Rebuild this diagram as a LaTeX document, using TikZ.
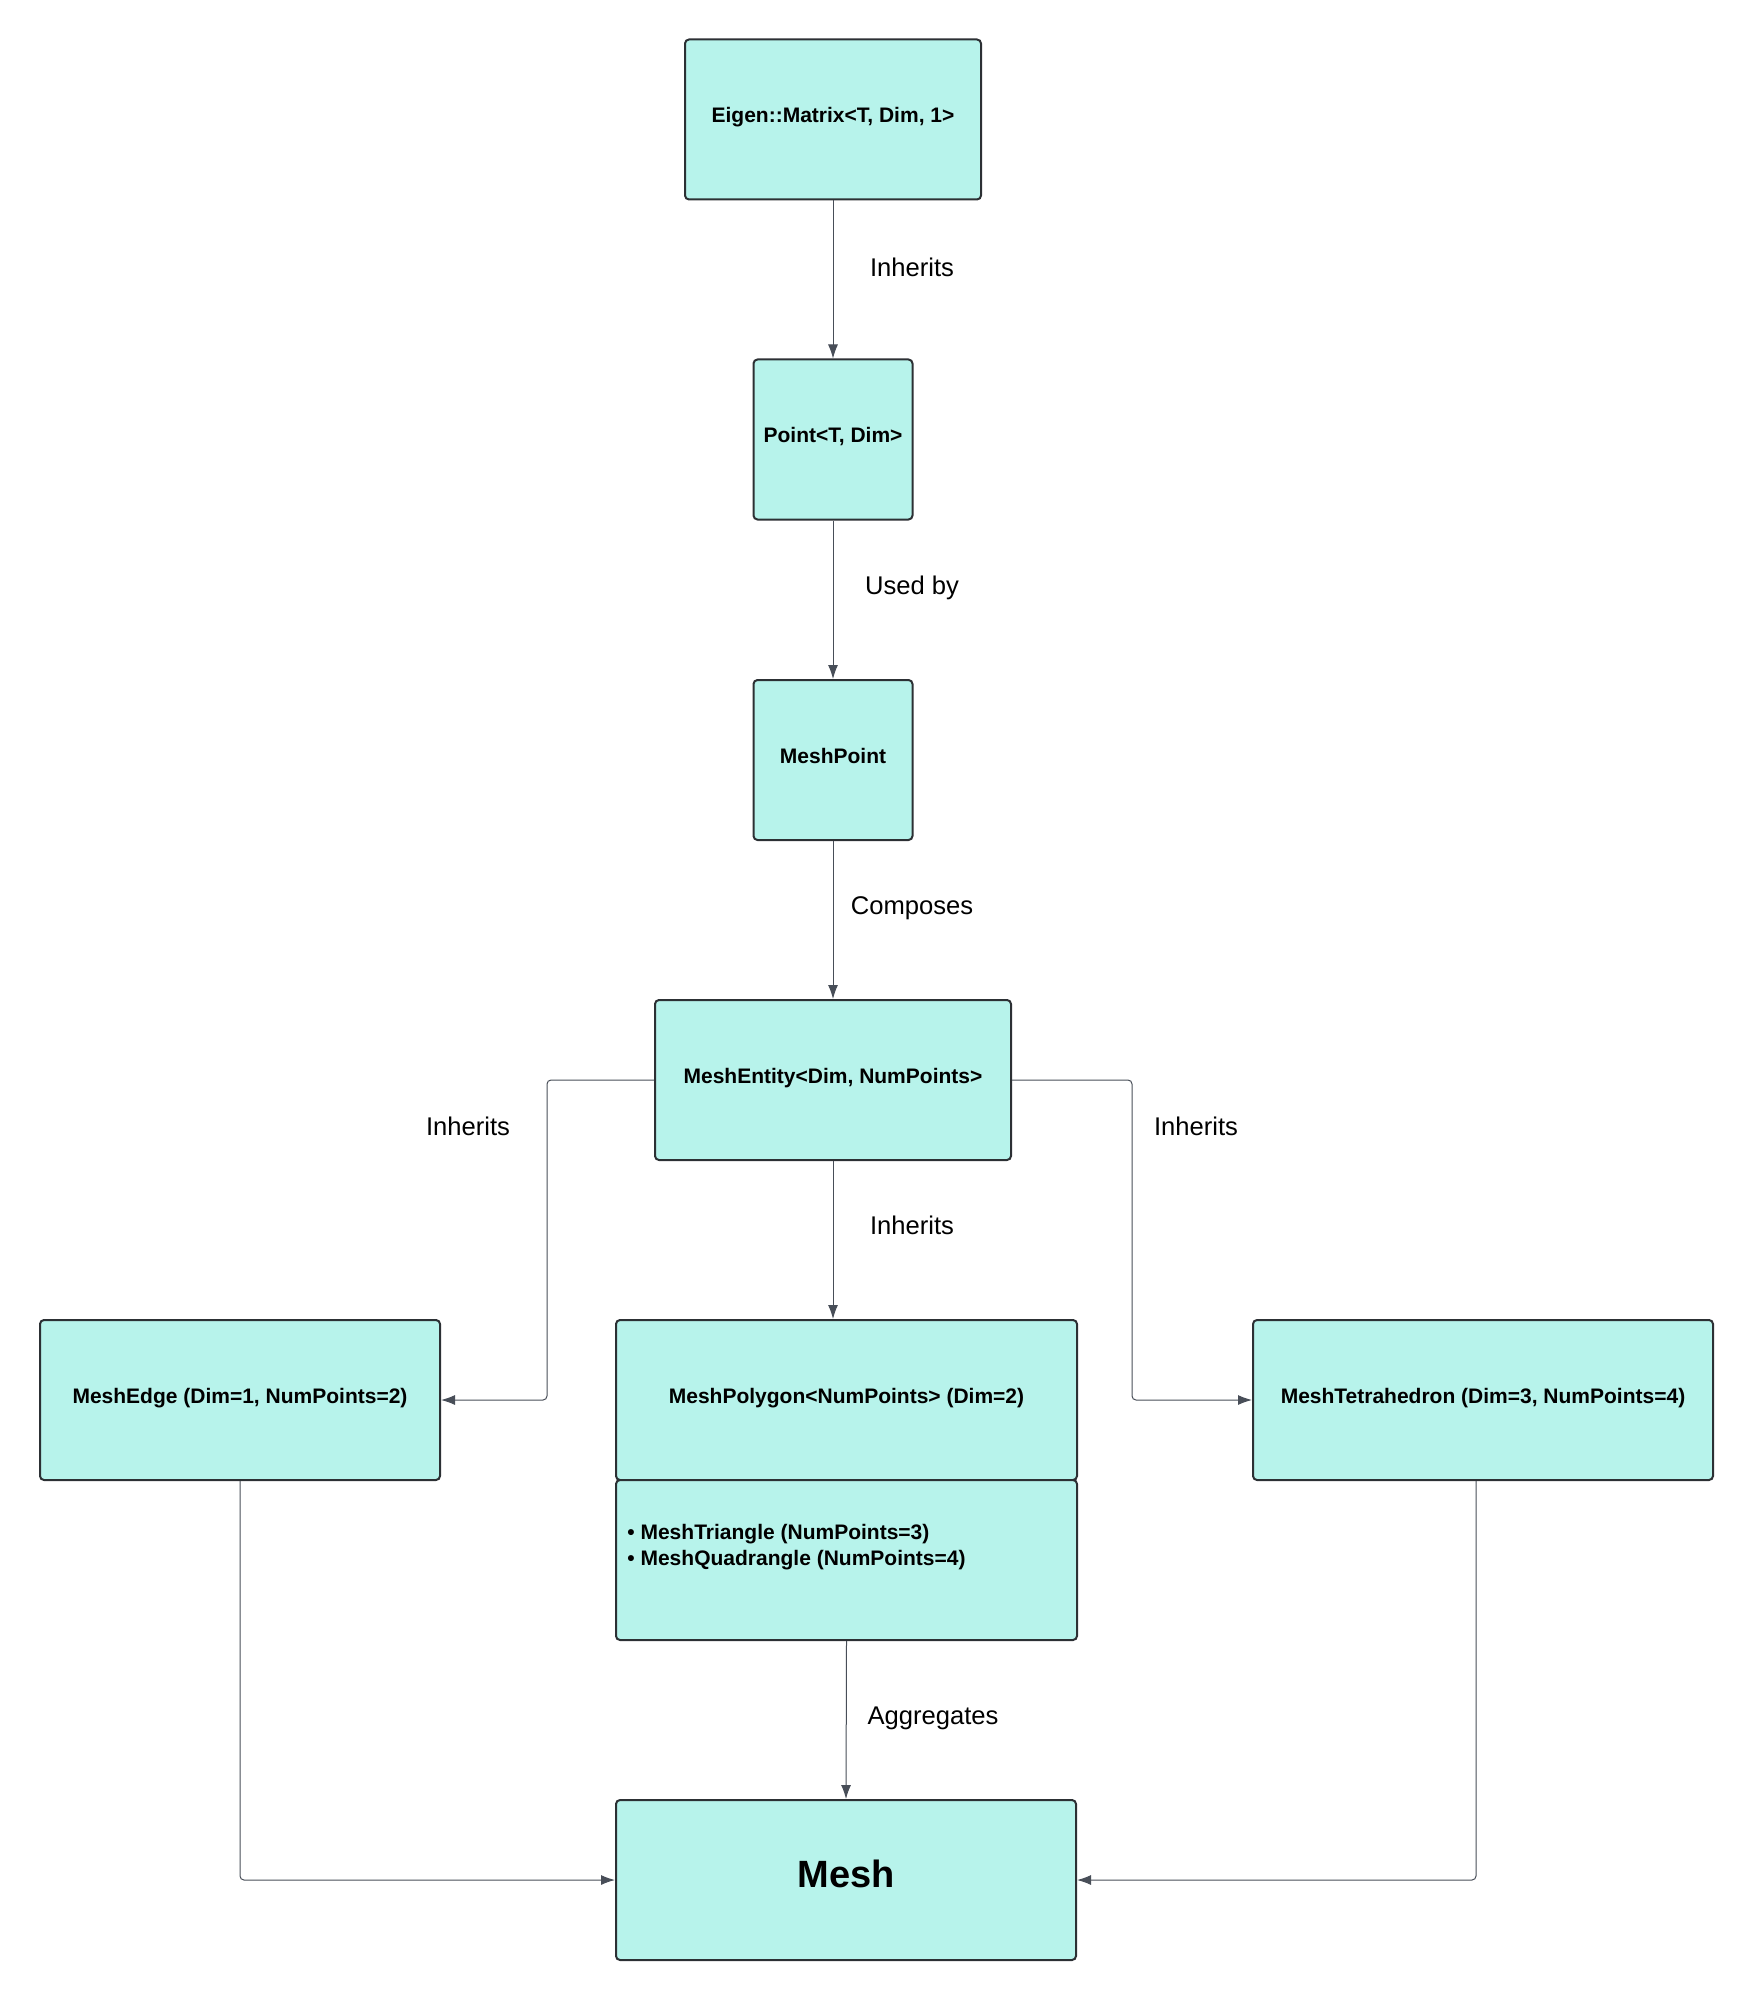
\documentclass[tikz,border=0pt]{standalone}
\usepackage{fontspec}
\setmainfont{Liberation Sans}
\usetikzlibrary{arrows.meta}
\definecolor{boxfill}{RGB}{183,243,235}
\definecolor{boxline}{RGB}{44,48,52}
\definecolor{linkgray}{RGB}{72,78,88}
\tikzset{
  cls/.style={draw=boxline, fill=boxfill, line width=1pt, rounded corners=2pt,
    minimum height=80pt, inner sep=0pt, text height=8pt, text depth=4.5pt,
    font=\fontsize{10.5}{12.6}\selectfont\bfseries},
  link/.style={draw=linkgray, line width=0.5pt, rounded corners=2pt,
    -{Latex[length=7pt,width=5pt]}},
  lbl/.style={font=\fontsize{12.8}{15}\selectfont},
  subtext/.style={inner sep=0pt, align=left, font=\fontsize{10.5}{13}\selectfont\bfseries},
}
\begin{document}
\begin{tikzpicture}[x=0.5pt,y=-0.5pt]
		\useasboundingbox (0,0) rectangle (1753,2000);
		% class boxes
		\node[cls, minimum width=148pt] (eigen) at (833,119.5) {Eigen::Matrix<T, Dim, 1>};
		\node[cls, minimum width=79.5pt] (point) at (833,439.5) {Point<T, Dim>};
		\node[cls, minimum width=79.5pt] (mpoint) at (833,760) {MeshPoint};
		\node[cls, minimum width=178pt] (entity) at (833,1080) {MeshEntity<Dim, NumPoints>};
		\node[cls, minimum width=200pt] (edge) at (240,1400) {MeshEdge (Dim=1, NumPoints=2)};
		\node[cls, minimum width=230.5pt] (polygon) at (846.5,1400) {MeshPolygon<NumPoints> (Dim=2)};
		\node[cls, minimum width=230.5pt] (subtypes) at (846.5,1560) {};
		\node[subtext, anchor=west] (subtxt) at (627,1547)
			{• MeshTriangle (NumPoints=3)\\• MeshQuadrangle (NumPoints=4)};
		\node[cls, minimum width=230pt] (tetra) at (1483,1400) {MeshTetrahedron (Dim=3, NumPoints=4)};
		\node[cls, minimum width=230pt, text height=14pt, text depth=6.5pt,
			font=\fontsize{19}{22}\selectfont\bfseries] (mesh) at (846,1880) {Mesh};

		% connectors
		\draw[link] (eigen) -- (point);
		\draw[link] (point) -- (mpoint);
		\draw[link] (mpoint) -- (entity);
		\draw[link] (entity.south) -- (entity.south |- polygon.north);
		\draw[link] (entity.west) -- ++(-107,0) |- (edge.east);
		\draw[link] (entity.east) -- ++(120,0) |- (tetra.west);
		\draw[link] (subtypes.south) -- (mesh.north);
		\draw[link] (edge.south) |- (mesh.west);
		\draw[link] ([xshift=-3.5pt]tetra.south) |- (mesh.east);

		% connector labels
		\node[lbl] (linh1) at (912,267) {Inherits};
		\node[lbl] (lused) at (912,588) {Used by};
		\node[lbl] (lcomp) at (912,908) {Composes};
		\node[lbl] (linhl) at (468,1126) {Inherits};
		\node[lbl] (linhr) at (1196,1126) {Inherits};
		\node[lbl] (linhc) at (912,1225) {Inherits};
		\node[lbl] (laggr) at (933,1718) {Aggregates};
\end{tikzpicture}
\end{document}
